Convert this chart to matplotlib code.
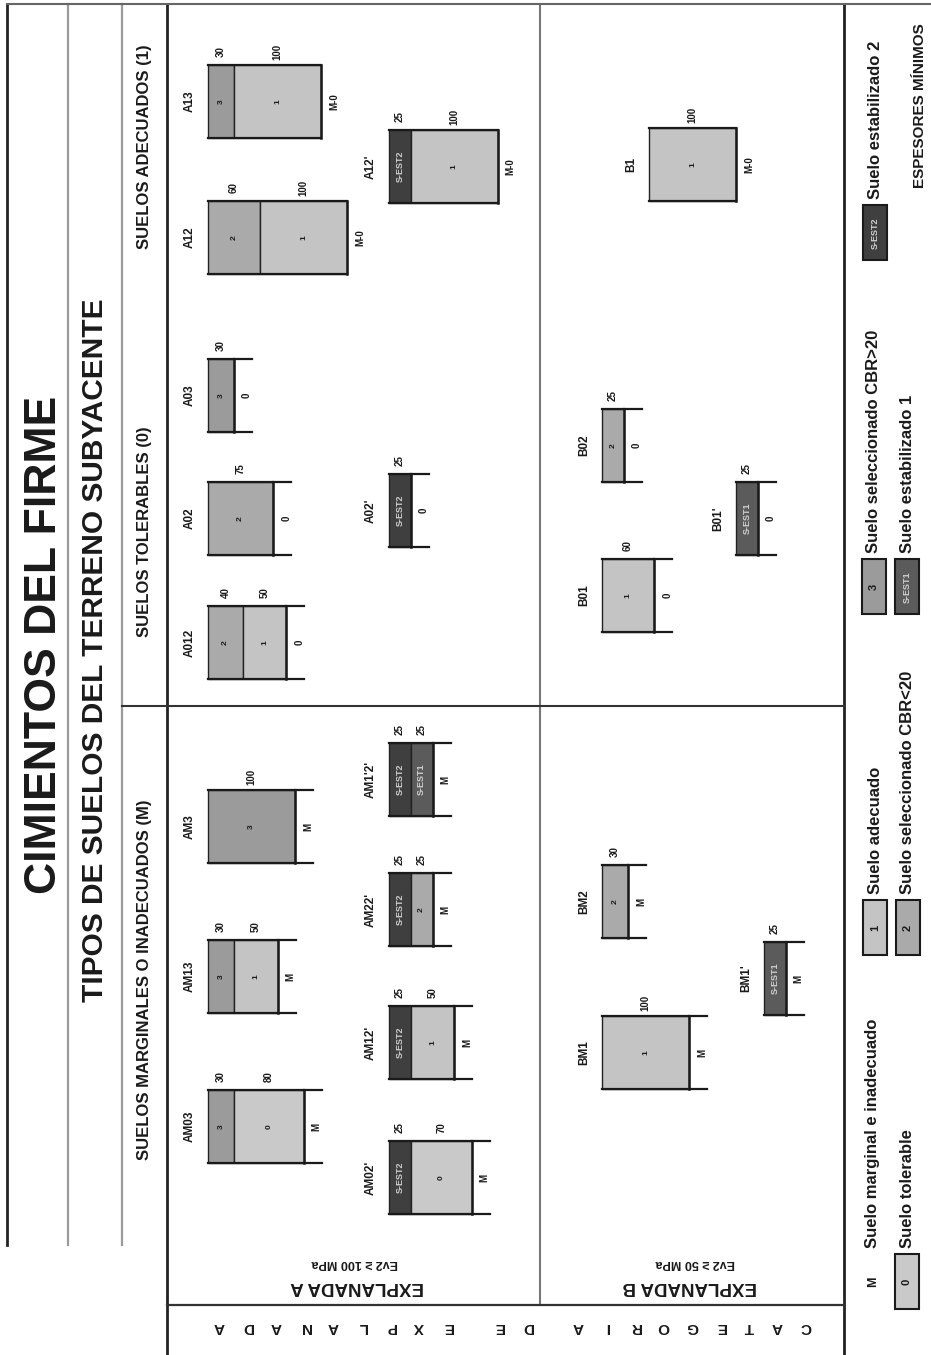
import matplotlib
matplotlib.use("Agg")
import matplotlib.pyplot as plt
from matplotlib.patches import Rectangle

plt.rcParams["font.family"] = ["Liberation Sans", "DejaVu Sans"]

# colour for every soil / layer type
soil_colors = {
    "0": "#c9c9c9",
    "1": "#c4c4c4",
    "2": "#aaaaaa",
    "3": "#9b9b9b",
    "S-EST1": "#5b5b5b",
    "S-EST2": "#3f3f3f",
}

# --- data: sections and minimum thicknesses (cm) ---
codes = ["A13", "A12", "A03", "A02", "A012", "AM3", "AM13", "AM03",
         "A12'", "A02'", "AM1'2'", "AM22'", "AM12'", "AM02'",
         "B1", "B02", "B01", "B01'", "BM2", "BM1'", "BM1"]
layer_types = [["3", "1"], ["2", "1"], ["3"], ["2"], ["2", "1"], ["3"], ["3", "1"], ["3", "0"],
               ["S-EST2", "1"], ["S-EST2"], ["S-EST2", "S-EST1"], ["S-EST2", "2"],
               ["S-EST2", "1"], ["S-EST2", "0"],
               ["1"], ["2"], ["1"], ["S-EST1"], ["2"], ["S-EST1"], ["1"]]
layer_cm = [[30, 100], [60, 100], [30], [75], [40, 50], [100], [30, 50], [30, 80],
            [25, 100], [25], [25, 25], [25, 25], [25, 50], [25, 70],
            [100], [25], [60], [25], [30], [25], [100]]
subgrade = ["M-0", "M-0", "0", "0", "0", "M", "M", "M",
            "M-0", "0", "M", "M", "M", "M",
            "M-0", "0", "0", "0", "M", "M", "M"]

legend_keys = ["M", "0", "1", "2", "3", "S-EST1", "S-EST2"]
legend_labels = ["Suelo marginal e inadecuado", "Suelo tolerable", "Suelo adecuado",
                 "Suelo seleccionado CBR<20", "Suelo seleccionado CBR>20",
                 "Suelo estabilizado 1", "Suelo estabilizado 2"]

# --- layout (pixels of the page) ---
block_x = [208] * 8 + [389] * 6 + [649, 602, 602, 736, 602, 764, 602]
block_y = [65, 201, 359, 482, 606, 790, 940, 1090,
           130, 474, 743, 873, 1006, 1141,
           128, 409, 559, 482, 865, 942, 1016]
legend_x = [873, 907, 875, 908, 874, 907, 875]
legend_y = [1309, 1309, 955, 955, 614, 614, 260]

PX_PER_CM = 0.87
BLOCK_H = 73
CAP = 18
W, H = 931, 1355

fig = plt.figure(figsize=(W / 100, H / 100), dpi=100)
ax = fig.add_axes([0, 0, 1, 1])
ax.set_xlim(0, W)
ax.set_ylim(H, 0)
ax.axis("off")


def vtext(x, y, s, size, weight="normal", color="#1a1a1a", ha="center", rot=90):
    ax.text(x, y, s, rotation=rot, rotation_mode="anchor", ha=ha, va="center",
            fontsize=size, fontweight=weight, color=color)


# frame
ax.plot([7, 7], [4, 1245], color="#222222", lw=2.0)
ax.plot([68, 68], [4, 1245], color="#9a9a9a", lw=1.6)
ax.plot([122, 122], [4, 1245], color="#9a9a9a", lw=1.6)
ax.plot([167, 167], [4, H], color="#222222", lw=2.0)
ax.plot([540, 540], [4, 1305], color="#777777", lw=1.5)
ax.plot([844, 844], [4, H], color="#222222", lw=2.0)
ax.plot([7, W], [4, 4], color="#666666", lw=1.5)
ax.plot([122, 844], [706, 706], color="#333333", lw=1.5)
ax.plot([167, 844], [1305, 1305], color="#333333", lw=1.6)

# headings
vtext(45, 645, "CIMIENTOS DEL FIRME", 32, "bold")
vtext(95, 650, "TIPOS DE SUELOS DEL TERRENO SUBYACENTE", 21.5, "bold")
vtext(144, 980, "SUELOS MARGINALES O INADECUADOS (M)", 12, "bold")
vtext(144, 532, "SUELOS TOLERABLES (0)", 12, "bold")
vtext(144, 147, "SUELOS ADECUADOS (1)", 12, "bold")

vtext(357, 1287, "EXPLANADA A", 13.5, "bold", rot=180)
vtext(355, 1263, "Ev2 \u2265 100 MPa", 9, "bold", rot=180)
vtext(690, 1287, "EXPLANADA B", 13.5, "bold", rot=180)
vtext(695, 1263, "Ev2 \u2265 50 MPa", 9, "bold", rot=180)

# bottom strip lettering
x = 806
for ch in "CATEGORIA DE EXPLANADA":
    if ch == " ":
        x -= 22.5
        continue
    vtext(x, 1327, ch, 11, "bold", rot=180)
    x -= 28.5

# sections
for code, types, cms, base, x0, y0 in zip(codes, layer_types, layer_cm, subgrade, block_x, block_y):
    xr = x0
    for t, cm in zip(types, cms):
        w = cm * PX_PER_CM
        ax.add_patch(Rectangle((xr, y0), w, BLOCK_H, facecolor=soil_colors[t],
                               edgecolor="#222222", linewidth=1.0))
        if t.startswith("S-EST"):
            vtext(xr + w / 2, y0 + BLOCK_H / 2, t, 6.5, "bold", color="#cfcfcf")
        else:
            vtext(xr + w / 2, y0 + BLOCK_H / 2, t, 6, "bold")
        vtext(xr + w / 2, y0 - 13, str(cm), 7, "bold")
        xr += w
    ax.plot([x0, xr], [y0, y0], color="#1a1a1a", lw=1.6)
    ax.plot([x0, xr], [y0 + BLOCK_H, y0 + BLOCK_H], color="#1a1a1a", lw=1.6)
    ax.plot([xr, xr], [y0, y0 + BLOCK_H], color="#1a1a1a", lw=1.8)
    if base != "M-0":
        ax.plot([xr, xr + CAP], [y0, y0], color="#1a1a1a", lw=1.6)
        ax.plot([xr, xr + CAP], [y0 + BLOCK_H, y0 + BLOCK_H], color="#1a1a1a", lw=1.6)
    vtext(xr + 13, y0 + BLOCK_H / 2, base, 7, "bold")
    vtext(x0 - 18, y0 + BLOCK_H / 2, code, 8.5, "bold")

# legend
for key, label, lx, ly in zip(legend_keys, legend_labels, legend_x, legend_y):
    if key == "M":
        vtext(lx, ly - 27, "M", 9, "bold")
    else:
        ax.add_patch(Rectangle((lx - 12, ly - 55), 24, 55, facecolor=soil_colors[key],
                               edgecolor="#1a1a1a", linewidth=1.5))
        if key.startswith("S-EST"):
            vtext(lx, ly - 27, key, 6.5, "bold", color="#cfcfcf")
        else:
            vtext(lx, ly - 27, key, 8, "bold")
    vtext(lx, ly - 61, label, 12, "bold", ha="left")

vtext(920, 188, "ESPESORES M\u00cdNIMOS", 11, "bold", ha="left")

fig.savefig("out.png", dpi=100)
